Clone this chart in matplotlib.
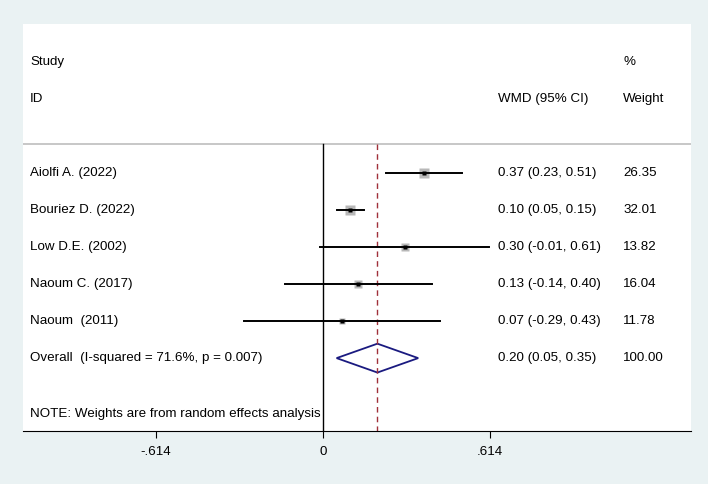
import matplotlib.pyplot as plt
from matplotlib.patches import Polygon

plt.rcParams['font.family'] = ['Liberation Sans', 'DejaVu Sans']

# study data
studies = ["Aiolfi A. (2022)", "Bouriez D. (2022)", "Low D.E. (2002)",
           "Naoum C. (2017)", "Naoum  (2011)"]
wmd = [0.37, 0.10, 0.30, 0.13, 0.07]
lo = [0.23, 0.05, -0.01, -0.14, -0.29]
hi = [0.51, 0.15, 0.61, 0.40, 0.43]
weights = [26.35, 32.01, 13.82, 16.04, 11.78]
ci_text = ["0.37 (0.23, 0.51)", "0.10 (0.05, 0.15)", "0.30 (-0.01, 0.61)",
           "0.13 (-0.14, 0.40)", "0.07 (-0.29, 0.43)"]
weight_text = ["26.35", "32.01", "13.82", "16.04", "11.78"]

overall_est = 0.20
overall_lo = 0.05
overall_hi = 0.35
overall_label = "Overall  (I-squared = 71.6%, p = 0.007)"
overall_ci = "0.20 (0.05, 0.35)"
overall_w = "100.00"

xticks = [-0.614, 0, 0.614]
xtick_labels = ["-.614", "0", ".614"]

bg = '#EAF2F3'
fig = plt.figure(figsize=(7.08, 4.84), dpi=100, facecolor=bg)
ax = fig.add_axes([23/708, 53/484, 668/708, 407/484])
ax.set_facecolor('white')

ax.set_xlim(-1.103, 1.353)
ax.set_ylim(9.97, -1.03)

x_lab = -1.077
x_ci = 0.643
x_w = 1.103
fs = 9.6

# headers
ax.text(x_lab, 0, "Study", fontsize=fs, va='center')
ax.text(x_lab, 1, "ID", fontsize=fs, va='center')
ax.text(x_ci, 1, "WMD (95% CI)", fontsize=fs, va='center')
ax.text(x_w, 0, "%", fontsize=fs, va='center')
ax.text(x_w, 1, "Weight", fontsize=fs, va='center')

ax.axhline(2.22, color='#BEBEBE', lw=1.2)

# reference lines
ax.plot([0, 0], [2.22, 9.97], color='black', lw=1)
ax.plot([overall_est, overall_est], [2.22, 9.97], color='#A0303A', lw=1, ls=(0, (4, 3)))

for i in range(len(studies)):
    y = 3 + i
    side = 1.9 * weights[i] ** 0.5 * 0.72
    ax.plot(wmd[i], y, marker='s', ms=side, color='#B8B8B8', mec='none')
    ax.plot([lo[i], hi[i]], [y, y], color='black', lw=1.4)
    ax.plot(wmd[i], y, marker='s', ms=2.6, color='black', mec='none')
    ax.text(x_lab, y, studies[i], fontsize=fs, va='center')
    ax.text(x_ci, y, ci_text[i], fontsize=fs, va='center')
    ax.text(x_w, y, weight_text[i], fontsize=fs, va='center')

yo = 8
dia = Polygon([[overall_lo, yo], [overall_est, yo - 0.39], [overall_hi, yo],
               [overall_est, yo + 0.39]], closed=True, fill=False,
              edgecolor='#1A1A80', lw=1.3)
ax.add_patch(dia)
ax.text(x_lab, yo, overall_label, fontsize=fs, va='center')
ax.text(x_ci, yo, overall_ci, fontsize=fs, va='center')
ax.text(x_w, yo, overall_w, fontsize=fs, va='center')

ax.text(x_lab, 9.5, "NOTE: Weights are from random effects analysis", fontsize=fs, va='center')

for s in ['top', 'left', 'right']:
    ax.spines[s].set_visible(False)
ax.spines['bottom'].set_color('black')
ax.set_yticks([])
ax.set_xticks(xticks)
ax.set_xticklabels(xtick_labels, fontsize=fs)
ax.tick_params(axis='x', length=5, pad=6)

fig.savefig('out.png', dpi=100, facecolor=bg)
